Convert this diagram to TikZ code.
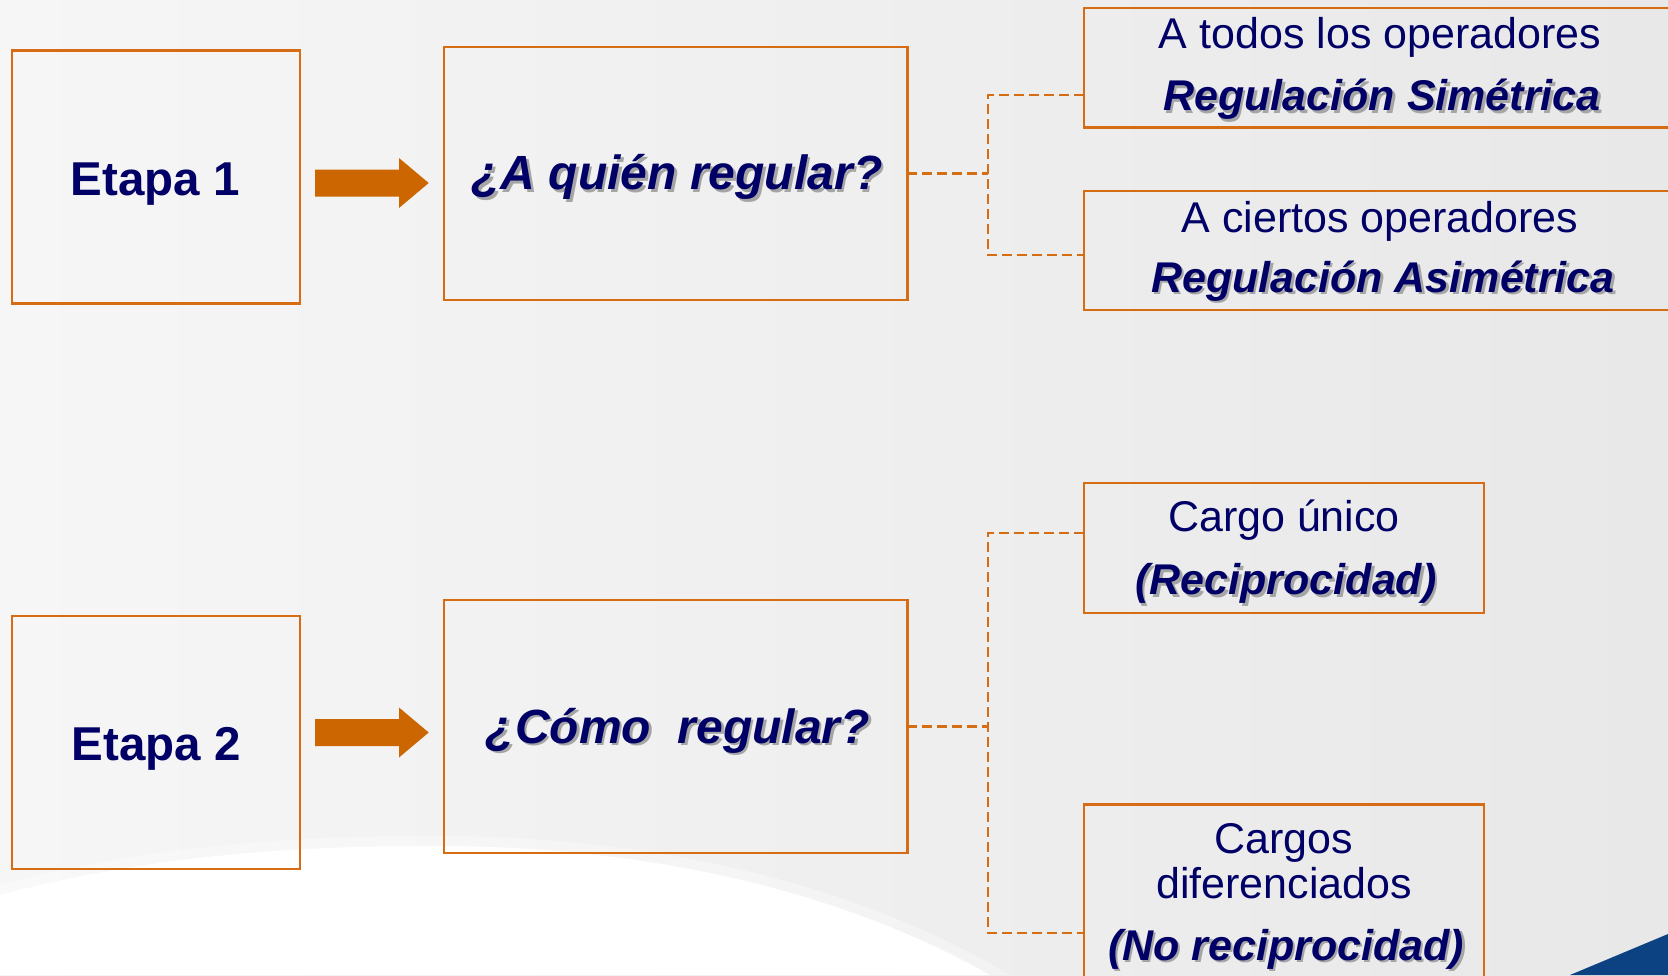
\documentclass[tikz,border=0pt]{standalone}
\usepackage{fontspec}
\setmainfont{Liberation Sans}
\usetikzlibrary{calc}
\definecolor{navy}{RGB}{0,0,102}
\definecolor{boxorange}{RGB}{214,108,20}
\definecolor{arroworange}{RGB}{204,102,0}
\definecolor{shadowgray}{RGB}{165,165,165}
\definecolor{cornerblue}{RGB}{12,66,130}
\definecolor{bgleft}{RGB}{246,246,246}
\definecolor{bgright}{RGB}{232,232,232}
\newcommand{\fbig}{\fontsize{47.5}{56}\selectfont\bfseries}
\newcommand{\fbigit}{\fontsize{48}{56}\selectfont\bfseries\itshape}
\newcommand{\fsm}{\fontsize{43}{50}\selectfont}
\newcommand{\fsmit}{\fontsize{43}{50}\selectfont\bfseries\itshape}
\newcommand{\shtext}[5]{%
  \node[txt, text=shadowgray, font=#4] (#1s) at ({#2+2.5},{#3+2.5}) {#5};
  \node[txt, font=#4] (#1) at (#2,#3) {#5};}
\tikzset{
  box/.style={draw=boxorange, line width=2.2pt, inner sep=0pt, outer sep=0pt},
  dashline/.style={draw=boxorange, line width=2.6pt, dash pattern=on 10pt off 5pt},
  txt/.style={anchor=base, inner sep=0pt, outer sep=0pt, text=navy},
  blockarrow/.pic={\fill[arroworange] (0,-13.5) -- (84,-13.5) -- (84,-25) -- (113.7,0)
     -- (84,25) -- (84,13.5) -- (0,13.5) -- cycle;}
}
\begin{document}
\begin{tikzpicture}[x=1pt,y=-1pt]
\useasboundingbox (0,0) rectangle (1668,975);
\clip (0,0) rectangle (1668,975);
% background
\shade[left color=bgleft, right color=bgright] (0,0) rectangle (1668,975);
\fill[white, opacity=0.35] (0,885) .. controls (150,845) and (300,835) .. (450,836)
   .. controls (650,838) and (850,880) .. (1010,975) -- (0,975) -- cycle;
\fill[white] (0,895) .. controls (150,855) and (300,845) .. (450,846)
   .. controls (650,848) and (840,890) .. (990,975) -- (0,975) -- cycle;
\fill[cornerblue] (1570,975) -- (1668,934) -- (1668,975) -- cycle;

% boxes
\node[box, minimum width=288.3pt, minimum height=253pt] (e1) at (156,177) {};
\node[box, minimum width=288.3pt, minimum height=253pt] (e2) at (156,742.25) {};
\node[box, minimum width=463.8pt, minimum height=253pt] (q1) at (675.5,173.25) {};
\node[box, minimum width=463.8pt, minimum height=253pt] (q2) at (675.5,726.3) {};
\node[box, minimum width=592pt, minimum height=119.5pt] (r1) at (1380,67.75) {};
\node[box, minimum width=592pt, minimum height=119pt] (r2) at (1380,250.5) {};
\node[box, minimum width=400pt, minimum height=130pt] (r3) at (1284,547.6) {};
\node[box, minimum width=400pt, minimum height=195pt] (r4) at (1284,902) {};

% block arrows
\pic at (315,183) {blockarrow};
\pic at (315,732.5) {blockarrow};

% dashed connectors
\coordinate (t1) at (988,95);
\coordinate (t2) at (988,255);
\coordinate (t3) at (988,533);
\coordinate (t4) at (988,932.8);
\draw[dashline] (q1.east) -- (q1.east -| t1);
\draw[dashline] (t1 -| r1.west) -- (t1) -- (t2) -- (t2 -| r2.west);
\draw[dashline] (q2.east) -- (q2.east -| t3);
\draw[dashline] (t3 -| r3.west) -- (t3) -- (t4) -- (t4 -| r4.west);

% texts
\node[txt, font=\fbig] (et1) at (155,195) {Etapa 1};
\node[txt, font=\fbig] (et2) at (156,760) {Etapa 2};
\shtext{qt1}{677}{189.7}{\fbigit}{¿A quién regular?}
\shtext{qt2}{678}{743.3}{\fbigit}{¿Cómo\ \ regular?}
\node[txt, font=\fsm] (r1a) at (1380,48.5) {A todos los operadores};
\shtext{r1b}{1382}{110.5}{\fsmit}{Regulación Simétrica}
\node[txt, font=\fsm] (r2a) at (1380,232) {A ciertos operadores};
\shtext{r2b}{1383}{292}{\fsmit}{Regulación Asimétrica}
\node[txt, font=\fsm] (r3a) at (1284,531.7) {Cargo único};
\shtext{r3b}{1286}{594.5}{\fsmit}{(Reciprocidad)}
\node[txt, font=\fsm] (r4a) at (1284,853) {Cargos};
\node[txt, font=\fsm] (r4b) at (1284,898.5) {diferenciados};
\shtext{r4c}{1286}{960}{\fsmit}{(No reciprocidad)}
\end{tikzpicture}
\end{document}
